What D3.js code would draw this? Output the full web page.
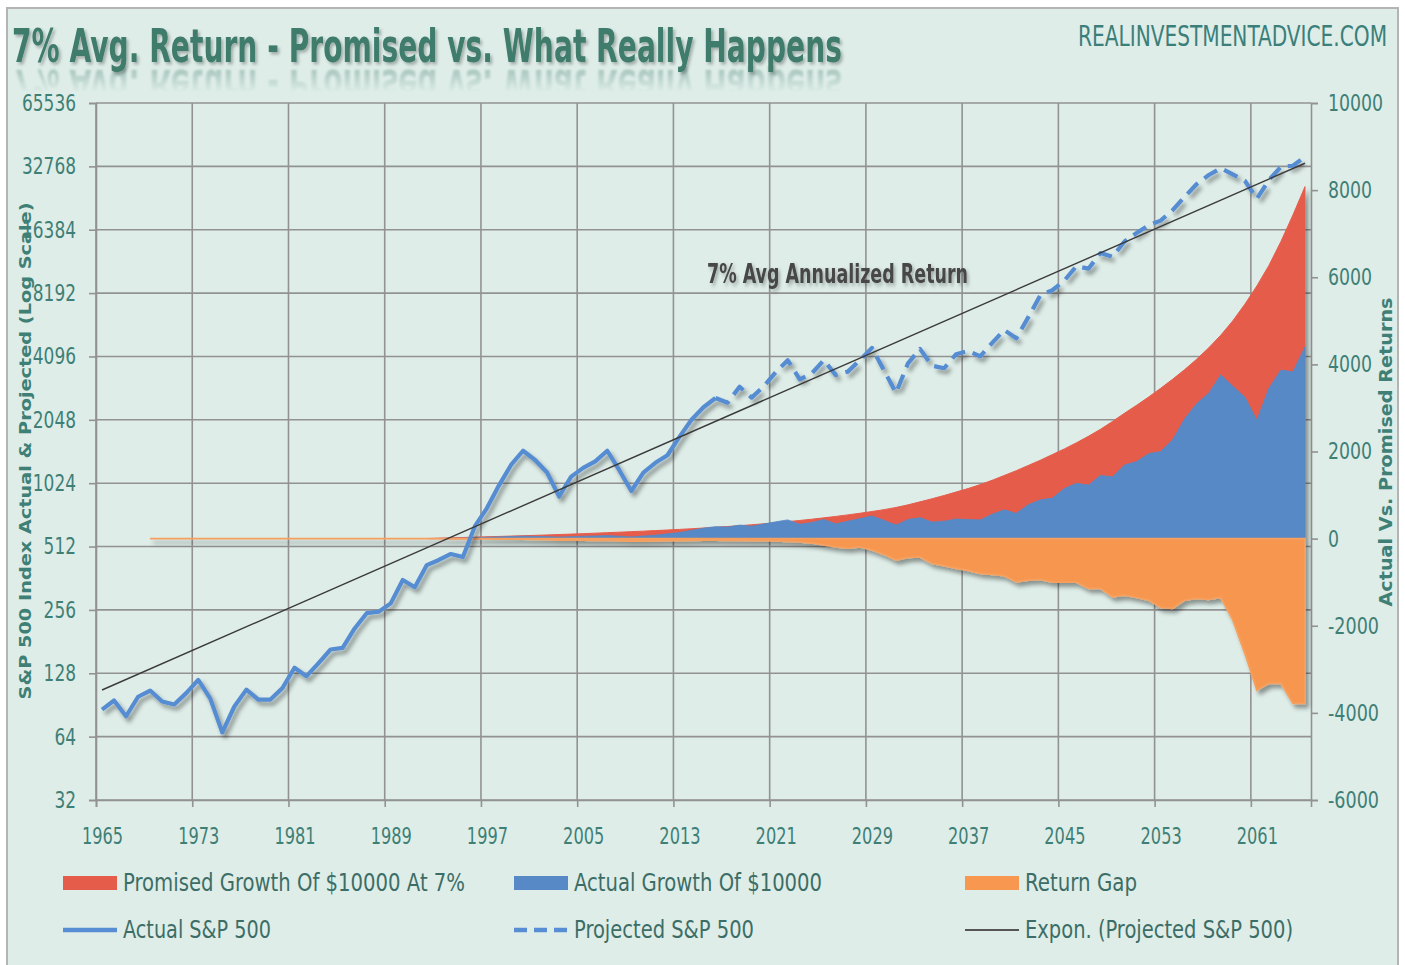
<!DOCTYPE html>
<html><head><meta charset="utf-8">
<script src="https://cdn.jsdelivr.net/npm/d3@7"></script>
<style>body{margin:0;background:#fff;} svg{display:block}</style>
</head><body>
<svg id="chart" width="1405" height="965"></svg>
<script>
// ---------- DATA ----------
const firstYear = 1965, lastYear = 2065;
const xTickYears = [1965,1973,1981,1989,1997,2005,2013,2021,2029,2037,2045,2053,2061];
const leftTicks = [32,64,128,256,512,1024,2048,4096,8192,16384,32768,65536];
const rightTicks = [-6000,-4000,-2000,0,2000,4000,6000,8000,10000];

const actualStart = 1965; // Actual S&P 500 (solid)
const actualSP = [86,95,80,99,106,94,91,103,119,97,
  67,89,107,96,96,109,136,124,143,166,
  169,209,247,251,275,355,328,418,442,472,
  457,640,780,1000,1250,1460,1320,1150,885,1100,
  1210,1300,1460,1180,940,1150,1280,1390,1700,2050,
  2350,2600];

const projectedStart = 2016; // Projected S&P 500 (dashed)
const projectedSP = [2600,2470,2940,2610,2950,3450,3930,3190,3400,3930,
  3340,3470,3930,4500,3520,2750,3800,4450,3700,3600,
  4200,4350,4100,4750,5470,5000,6300,8000,8450,9400,
  11000,10700,12700,12200,14400,15800,17200,18100,20300,23500,
  27000,29800,32100,30000,28000,23000,28200,32600,33000,36400];

const trendYears = [1965, 2065];        // Expon. (Projected S&P 500)
const trendValues = [106.6, 33900];

const promisedStart = 1992; // Promised Growth Of $10000 At 7%
const promisedGrowth = [3,10,18,26,34,42,50,58,66,75,
  84,94,104,114,125,136,148,160,172,185,
  198,212,227,243,260,278,297,318,340,364,
  390,417,446,477,510,545,582,622,665,715,
  775,845,915,990,1070,1150,1240,1340,1450,1560,
  1680,1800,1930,2060,2200,2350,2510,2690,2880,3060,
  3250,3450,3660,3880,4120,4380,4670,5000,5380,5800,
  6270,6820,7430,8080];

const actualGrowthStart = 1993; // Actual Growth Of $10000
const actualGrowth = [5,10,10,20,30,40,50,55,50,45,
  35,45,55,60,70,55,40,60,80,110,
  140,190,240,275,265,310,285,335,385,430,
  330,370,440,340,400,460,520,420,310,440,
  480,380,400,450,440,430,560,660,580,780,
  890,930,1150,1270,1230,1450,1420,1690,1770,1950,
  2000,2270,2750,3100,3340,3760,3500,3250,2720,3450,
  3870,3830,4400];

const gapStart = 1969; // Return Gap
const returnGap = [0,0,0,0,0,0,0,0,0,0,
  0,0,0,0,0,0,0,0,0,0,
  0,0,0,0,0,
  -3,-5,-6,-8,-10,-10,-12,-18,-25,-35,
  -35,-35,-38,-40,-48,-55,-55,-50,-48,-45,
  -40,-35,-35,-40,-40,-45,-45,-50,-60,-75,
  -100,-146,-190,-220,-190,-260,-360,-490,-430,-420,
  -570,-620,-680,-730,-800,-820,-850,-989,-950,-934,
  -1000,-1000,-1000,-1141,-1141,-1334,-1295,-1350,-1410,-1577,
  -1600,-1410,-1370,-1393,-1348,-1869,-2633,-3480,-3320,-3320,
  -3780,-3780];

const legendRow1 = [
  {label:"Promised Growth Of $10000 At 7%", color:"#e65c4b"},
  {label:"Actual Growth Of $10000", color:"#5689c6"},
  {label:"Return Gap", color:"#f79750"}];
const legendRow2 = [
  {label:"Actual S&P 500", type:"solid"},
  {label:"Projected S&P 500", type:"dash"},
  {label:"Expon. (Projected S&P 500)", type:"trend"}];

// ---------- CHART ----------
const svg = d3.select("#chart");
const narrow = "'DejaVu Sans Condensed','Liberation Sans Narrow',sans-serif";
const teal = "#3e7f76";
const gridC = "#929292";

const defs = svg.append("defs");
const sh = defs.append("filter").attr("id","sh").attr("x","-5%").attr("y","-5%").attr("width","112%").attr("height","115%");
sh.append("feDropShadow").attr("dx",3).attr("dy",4).attr("stdDeviation",2.2).attr("flood-color","#000").attr("flood-opacity",0.38);
const tsh = defs.append("filter").attr("id","tsh").attr("x","-5%").attr("y","-20%").attr("width","110%").attr("height","150%");
tsh.append("feDropShadow").attr("dx",2).attr("dy",2).attr("stdDeviation",1.5).attr("flood-color","#000").attr("flood-opacity",0.28);
const blur = defs.append("filter").attr("id","blur").attr("x","-5%").attr("y","-30%").attr("width","110%").attr("height","160%");
blur.append("feGaussianBlur").attr("stdDeviation",1.3);
const grad = defs.append("linearGradient").attr("id","fadeGrad").attr("x1",0).attr("y1",0).attr("x2",0).attr("y2",1);
grad.append("stop").attr("offset","0%").attr("stop-color","#fff").attr("stop-opacity",0.4);
grad.append("stop").attr("offset","100%").attr("stop-color","#fff").attr("stop-opacity",0);
defs.append("mask").attr("id","fadeMask").attr("maskUnits","userSpaceOnUse")
  .append("rect").attr("x",0).attr("y",66).attr("width",900).attr("height",26).attr("fill","url(#fadeGrad)");

// frame
svg.append("rect").attr("x",7).attr("y",8).attr("width",1391).attr("height",980)
  .attr("fill","#deede8").attr("stroke","#b4b4b4").attr("stroke-width",2);

const x = d3.scaleLinear().domain([firstYear-0.5, lastYear+0.5]).range([96,1311]);
const yL = d3.scaleLog().base(2).domain([32,65536]).range([800,103]);
const yR = d3.scaleLinear().domain([-6000,10000]).range([800,103]);

// stretched text helper (tall, condensed look)
function stext(parent, px, py, str, o){
  const g = parent.append("g").attr("transform",`translate(${px},${py}) scale(1,${o.sy||1.2})`);
  const t = g.append("text").attr("x",0).attr("y",0).text(str)
    .attr("font-family",o.family||narrow).attr("font-size",o.size)
    .attr("font-weight",o.weight||"normal").attr("fill",o.fill)
    .attr("text-anchor",o.anchor||"start");
  if(o.len) t.attr("textLength",o.len).attr("lengthAdjust","spacingAndGlyphs");
  return g;
}

// gridlines
const grid = svg.append("g").attr("stroke",gridC).attr("stroke-width",1.6);
grid.selectAll("line.h").data(leftTicks).join("line")
  .attr("x1",96).attr("x2",1311).attr("y1",d=>yL(d)).attr("y2",d=>yL(d));
grid.selectAll("line.v").data(xTickYears).join("line")
  .attr("x1",d=>x(d-0.5)).attr("x2",d=>x(d-0.5)).attr("y1",103).attr("y2",800);

// axes
function styleAxis(g, size, perChar){
  g.select(".domain").attr("stroke",gridC).attr("stroke-width",1.6);
  g.selectAll(".tick line").attr("stroke",gridC).attr("stroke-width",1.6);
  g.selectAll(".tick text").attr("fill",teal).attr("font-family",narrow).attr("font-size",size)
    .each(function(){
      const s = this.textContent;
      const L = s.replace("-","").length*perChar + (s.includes("-")?7:0);
      d3.select(this).attr("textLength",L).attr("lengthAdjust","spacingAndGlyphs");
    });
}
const gL = svg.append("g").attr("transform","translate(96,0)")
  .call(d3.axisLeft(yL).tickValues(leftTicks).tickFormat(d=>String(d)).tickSize(7).tickPadding(13));
styleAxis(gL, 23, 10.8);
const gR = svg.append("g").attr("transform","translate(1311,0)")
  .call(d3.axisRight(yR).tickValues(rightTicks).tickFormat(d=>String(d)).tickSize(7).tickPadding(10));
styleAxis(gR, 23, 11);
const gB = svg.append("g").attr("transform","translate(0,800)")
  .call(d3.axisBottom(x).tickValues(xTickYears.map(d=>d-0.5)).tickFormat(d=>String(d+0.5)).tickSize(7).tickPadding(21));
styleAxis(gB, 23, 10.3);
gB.selectAll(".tick text").attr("dx", x(firstYear)-x(firstYear-0.5));

// areas
const toPts = (arr, start) => arr.map((v,i)=>({year:start+i, v}));
const area = d3.area().x(d=>x(d.year)).y0(yR(0)).y1(d=>yR(d.v));
const ga = svg.append("g").attr("filter","url(#sh)");
ga.append("path").datum(toPts(promisedGrowth,promisedStart)).attr("d",area)
  .attr("fill","#e65c4b").attr("stroke","#e65c4b").attr("stroke-width",1);
ga.append("path").datum(toPts(actualGrowth,actualGrowthStart)).attr("d",area)
  .attr("fill","#5689c6").attr("stroke","#5689c6").attr("stroke-width",0.8);
ga.append("path").datum(toPts(returnGap,gapStart)).attr("d",area)
  .attr("fill","#f79750").attr("stroke","#f6a060").attr("stroke-width",1.8);

// lines
const lineL = d3.line().x(d=>x(d.year)).y(d=>yL(d.v));
const gl = svg.append("g").attr("filter","url(#sh)").attr("fill","none");
gl.append("path").datum(toPts(actualSP,actualStart)).attr("d",lineL)
  .attr("stroke","#578dd2").attr("stroke-width",4.2).attr("stroke-linejoin","round");
gl.append("path").datum(toPts(projectedSP,projectedStart)).attr("d",lineL)
  .attr("stroke","#578dd2").attr("stroke-width",4.2).attr("stroke-dasharray","15,8").attr("stroke-linejoin","round");
svg.append("path").datum(trendYears.map((y,i)=>({year:y, v:trendValues[i]}))).attr("d",lineL)
  .attr("fill","none").attr("stroke","#3a3a3a").attr("stroke-width",1.4);

// annotation
stext(svg, 707, 283, "7% Avg Annualized Return",
  {size:21, sy:1.25, weight:"bold", fill:"#474747", len:261}).attr("filter","url(#tsh)");

// title + faint blurred reflection
const titleText = "7% Avg. Return - Promised vs. What Really Happens";
const refl = svg.append("g").attr("mask","url(#fadeMask)")
  .append("g").attr("transform","translate(0,132) scale(1,-1)").attr("filter","url(#blur)");
stext(refl, 12, 62, titleText, {size:38, sy:1.2, weight:"bold", fill:"#3f7b6c", len:830});
stext(svg, 12, 62, titleText, {size:38, sy:1.2, weight:"bold", fill:"#3f7b6c", len:830}).attr("filter","url(#tsh)");

stext(svg, 1387, 46, "REALINVESTMENTADVICE.COM", {size:22, sy:1.25, fill:"#3b7f7a", anchor:"end", len:309});

// axis titles
svg.append("text").attr("transform","translate(31,451) rotate(-90)").attr("text-anchor","middle")
  .text("S&P 500 Index Actual & Projected (Log Scale)")
  .attr("font-family","'DejaVu Sans',sans-serif").attr("font-weight","bold").attr("font-size",16)
  .attr("fill",teal).attr("textLength",497).attr("lengthAdjust","spacingAndGlyphs");
svg.append("text").attr("transform","translate(1392,452) rotate(-90)").attr("text-anchor","middle")
  .text("Actual Vs. Promised Returns")
  .attr("font-family","'DejaVu Sans',sans-serif").attr("font-weight","bold").attr("font-size",17)
  .attr("fill",teal).attr("textLength",309).attr("lengthAdjust","spacingAndGlyphs");

// legend
const colX = [63,514,965];
const row1Len = [342,248,112];
const row2Len = [148,180,268];
const legText = "#3c6d66";
legendRow1.forEach((d,i)=>{
  svg.append("rect").attr("x",colX[i]).attr("y",876).attr("width",54).attr("height",14).attr("fill",d.color);
  stext(svg, colX[i]+60, 891, d.label, {size:21, sy:1.2, fill:legText, len:row1Len[i]});
});
legendRow2.forEach((d,i)=>{
  const ln = svg.append("line").attr("x1",colX[i]).attr("x2",colX[i]+54).attr("y1",930).attr("y2",930);
  if(d.type==="solid") ln.attr("stroke","#578dd2").attr("stroke-width",4.5);
  if(d.type==="dash") ln.attr("stroke","#578dd2").attr("stroke-width",4.5).attr("stroke-dasharray","13,7");
  if(d.type==="trend") ln.attr("stroke","#555").attr("stroke-width",2);
  stext(svg, colX[i]+60, 938, d.label, {size:21, sy:1.2, fill:legText, len:row2Len[i]});
});
</script>
</body></html>
